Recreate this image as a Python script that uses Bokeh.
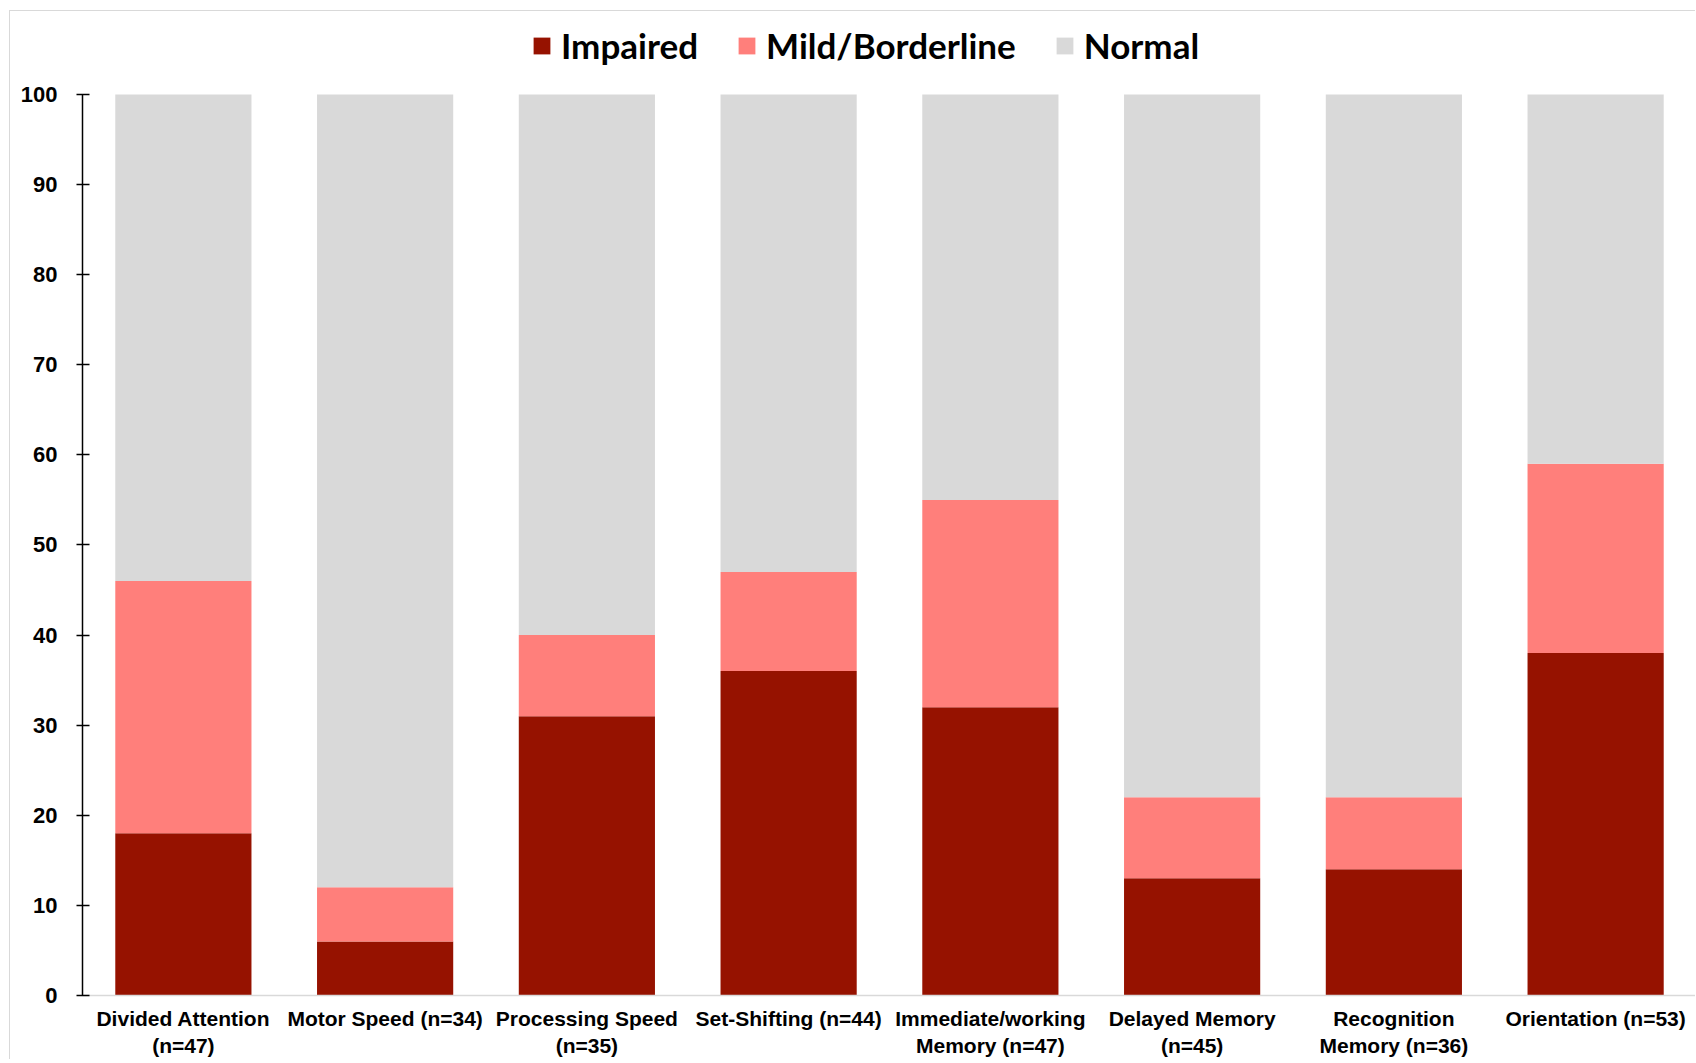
from bokeh.plotting import figure
from bokeh.models import ColumnDataSource, Range1d, FixedTicker, Legend, LegendItem
from bokeh.embed import file_html
from bokeh.resources import INLINE

categories = ["Divided Attention\n(n=47)", "Motor Speed (n=34)", "Processing Speed\n(n=35)",
              "Set-Shifting (n=44)", "Immediate/working\nMemory (n=47)", "Delayed Memory\n(n=45)",
              "Recognition\nMemory (n=36)", "Orientation (n=53)"]
impaired = [18, 6, 31, 36, 32, 13, 14, 38]
mild = [28, 6, 9, 11, 23, 9, 8, 21]
normal = [54, 88, 60, 53, 45, 78, 78, 41]
y_ticks = [0, 10, 20, 30, 40, 50, 60, 70, 80, 90, 100]

series_names = ["Impaired", "Mild/Borderline", "Normal"]
colors = ["#961200", "#ff7f7b", "#d9d9d9"]

xs = list(range(len(categories)))
src = ColumnDataSource(dict(x=xs, Impaired=impaired, **{"Mild/Borderline": mild}, Normal=normal))

p = figure(width=1686, height=1049, output_backend="svg", toolbar_location=None,
           x_range=Range1d(-0.5, 7.5), y_range=Range1d(0, 108.2),
           min_border_left=72, min_border_right=0, min_border_top=9, min_border_bottom=64)
p.styles = {"border-top": "1px solid #d9d9d9", "border-left": "1px solid #d9d9d9",
            "margin": "10px 0px 0px 9px"}

renderers = p.vbar_stack(series_names, x="x", width=0.675, color=colors, source=src, line_width=0)

p.grid.visible = False
p.outline_line_color = None

xa = p.xaxis[0]
xa.ticker = FixedTicker(ticks=xs)
xa.major_label_overrides = {i: c for i, c in enumerate(categories)}
xa.major_tick_line_color = None
xa.minor_tick_line_color = None
xa.axis_line_color = "#d9d9d9"
xa.axis_line_width = 1.5
xa.major_label_text_font = "Liberation Sans"
xa.major_label_text_font_style = "bold"
xa.major_label_text_font_size = "21px"
xa.major_label_text_color = "black"
xa.major_label_standoff = 5

ya = p.yaxis[0]
ya.ticker = FixedTicker(ticks=y_ticks)
ya.bounds = (0, 100)
ya.minor_tick_line_color = None
ya.axis_line_color = "black"
ya.axis_line_width = 1.5
ya.major_tick_line_color = "black"
ya.major_tick_line_width = 1.5
ya.major_tick_in = 7
ya.major_tick_out = 6
ya.major_label_text_font = "Liberation Sans"
ya.major_label_text_font_style = "bold"
ya.major_label_text_font_size = "22px"
ya.major_label_text_color = "black"
ya.major_label_standoff = 19

legend = Legend(items=[LegendItem(label=n, renderers=[r]) for n, r in zip(series_names, renderers)],
                orientation="horizontal", location=(449, 929),
                label_text_font="Lato", label_text_font_style="bold", label_text_font_size="35px",
                label_text_color="black", glyph_width=21, glyph_height=21, label_standoff=9,
                spacing=38, border_line_color=None, background_fill_alpha=0, padding=4, margin=0)
p.add_layout(legend, "center")

open("out.html", "w").write(file_html(p, INLINE))
